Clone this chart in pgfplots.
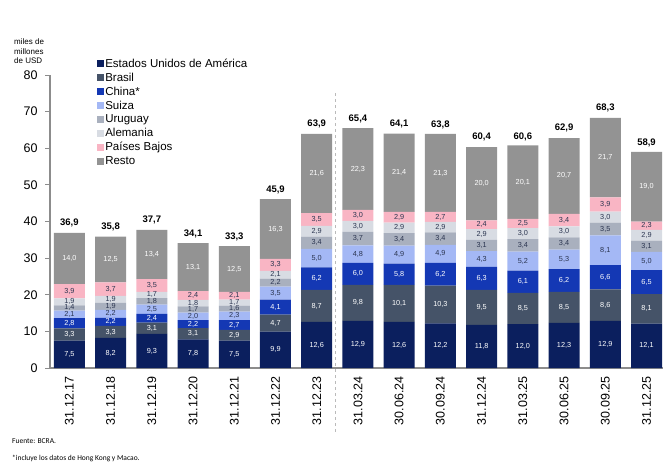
\documentclass[border=0pt]{standalone}
\usepackage{pgfplots}
\pgfplotsset{compat=1.18}
\usepackage{pgfplotstable}
\usepackage{fontspec}
\setmainfont{Liberation Sans}
\newfontfamily\calibri{Carlito}
\definecolor{cUS}{HTML}{0B1F5E}
\definecolor{cBR}{HTML}{455368}
\definecolor{cCN}{HTML}{1438B4}
\definecolor{cCH}{HTML}{A4B8F5}
\definecolor{cUY}{HTML}{A9B0BE}
\definecolor{cDE}{HTML}{D8DCE3}
\definecolor{cNL}{HTML}{F9B5C4}
\definecolor{cRE}{HTML}{939393}
\definecolor{cDark}{HTML}{2B3550}
\definecolor{cAxis}{HTML}{8C8C8C}
\pgfplotstableread{
x us br cn ch uy de nl rest tot
0 7.5 3.3 2.8 2.1 1.4 1.9 3.9 14.0 36.9
1 8.2 3.3 2.2 2.2 1.9 1.9 3.7 12.5 35.8
2 9.3 3.1 2.4 2.5 1.8 1.7 3.5 13.4 37.7
3 7.8 3.1 2.2 2.0 1.7 1.8 2.4 13.1 34.1
4 7.5 2.9 2.7 2.3 1.6 1.7 2.1 12.5 33.3
5 9.9 4.7 4.1 3.5 2.2 2.1 3.3 16.3 45.9
6 12.6 8.7 6.2 5.0 3.4 2.9 3.5 21.6 63.9
7 12.9 9.8 6.0 4.8 3.7 3.0 3.0 22.3 65.4
8 12.6 10.1 5.8 4.9 3.4 2.9 2.9 21.4 64.1
9 12.2 10.3 6.2 4.9 3.4 2.9 2.7 21.3 63.8
10 11.8 9.5 6.3 4.3 3.1 2.9 2.4 20.0 60.4
11 12.0 8.5 6.1 5.2 3.4 3.0 2.5 20.1 60.6
12 12.3 8.5 6.2 5.3 3.4 3.0 3.4 20.7 62.9
13 12.9 8.6 6.6 8.1 3.5 3.0 3.9 21.7 68.3
14 12.1 8.1 6.5 5.0 3.1 2.9 2.3 19.0 58.9
}\data
\pgfplotsset{
  sq/.style={legend image code/.code={\fill[##1,draw=none] (0pt,-3.2pt) rectangle (6.4pt,3.2pt);}},
  lbl/.style={every node near coord/.append style={text=#1}},
  geom/.style={at={(50pt,96pt)}, anchor=south west,
    scale only axis, width=613pt, height=293pt,
    xmin=-0.47, xmax=14.4, ymin=0, ymax=80, clip=false, bar width=31pt,
    /pgf/number format/assume math mode=true},
}
\begin{document}
\begin{tikzpicture}
\useasboundingbox (0pt,0pt) rectangle (663pt,464pt);
\begin{axis}[
  geom,
  ybar stacked,
  axis x line*=bottom, axis y line*=left,
  axis line style={draw=cAxis, line width=1.2pt},
  ytick={0,10,...,80},
  ytick style={draw=cAxis, line width=1pt},
  tick align=outside, major tick length=5pt,
  xtick={0,...,14},
  xticklabels={31.12.17,31.12.18,31.12.19,31.12.20,31.12.21,31.12.22,31.12.23,31.03.24,30.06.24,30.09.24,31.12.24,31.03.25,30.06.25,30.09.25,31.12.25},
  xtick style={draw=none},
  x tick label style={rotate=90, anchor=east, font=\fontsize{12.5}{14}\selectfont},
  y tick label style={font=\fontsize{12.5}{14}\selectfont, xshift=-4pt},
  point meta=explicit,
  nodes near coords={\pgfmathprintnumber[fixed,fixed zerofill,precision=1,use comma]{\pgfplotspointmeta}},
  every node near coord/.append style={font=\fontsize{7.3}{8}\selectfont, inner sep=0pt},
  legend style={draw=none, fill=none, at={(0.077,1.062)}, anchor=north west,
    font=\fontsize{11.5}{13}\selectfont, row sep=1.2pt, inner sep=0pt,
    nodes={inner sep=1.5pt}},
  legend cell align=left,
]
\addplot[fill=cUS, draw=none, sq, lbl=white] table[x=x,y=us,meta=us]{\data};
\addlegendentry{Estados Unidos de América}
\addplot[fill=cBR, draw=none, sq, lbl=white] table[x=x,y=br,meta=br]{\data};
\addlegendentry{Brasil}
\addplot[fill=cCN, draw=none, sq, lbl=white] table[x=x,y=cn,meta=cn]{\data};
\addlegendentry{China*}
\addplot[fill=cCH, draw=none, sq, lbl=cDark] table[x=x,y=ch,meta=ch]{\data};
\addlegendentry{Suiza}
\addplot[fill=cUY, draw=none, sq, lbl=cDark] table[x=x,y=uy,meta=uy]{\data};
\addlegendentry{Uruguay}
\addplot[fill=cDE, draw=none, sq, lbl=cDark] table[x=x,y=de,meta=de]{\data};
\addlegendentry{Alemania}
\addplot[fill=cNL, draw=none, sq, lbl=cDark] table[x=x,y=nl,meta=nl]{\data};
\addlegendentry{Países Bajos}
\addplot[fill=cRE, draw=none, sq, lbl=white] table[x=x,y=rest,meta=rest]{\data};
\addlegendentry{Resto}
\draw[dashed, draw=cAxis!60, line width=0.8pt] (axis cs:6.45,75) -- (axis cs:6.45,-17.8);
\end{axis}
\begin{axis}[
  geom, ybar, hide axis,
  point meta=explicit,
  nodes near coords={\pgfmathprintnumber[fixed,fixed zerofill,precision=1,use comma]{\pgfplotspointmeta}},
  every node near coord/.append style={font=\bfseries\fontsize{9.5}{11}\selectfont, text=black, anchor=south, yshift=2pt},
]
\addplot[fill=none, draw=none] table[x=x,y=tot,meta=tot]{\data};
\end{axis}
\node[anchor=north west, align=left, font=\fontsize{8}{9.5}\selectfont, inner sep=0pt] at (14pt,425pt) {miles de\\millones\\de USD};
\node[anchor=west, font=\calibri\fontsize{7.5}{9}\selectfont, inner sep=0pt] at (12pt,23pt) {Fuente: BCRA.};
\node[anchor=west, font=\calibri\fontsize{7.5}{9}\selectfont, inner sep=0pt] at (12pt,6pt) {*incluye los datos de Hong Kong y Macao.};
\end{tikzpicture}
\end{document}
